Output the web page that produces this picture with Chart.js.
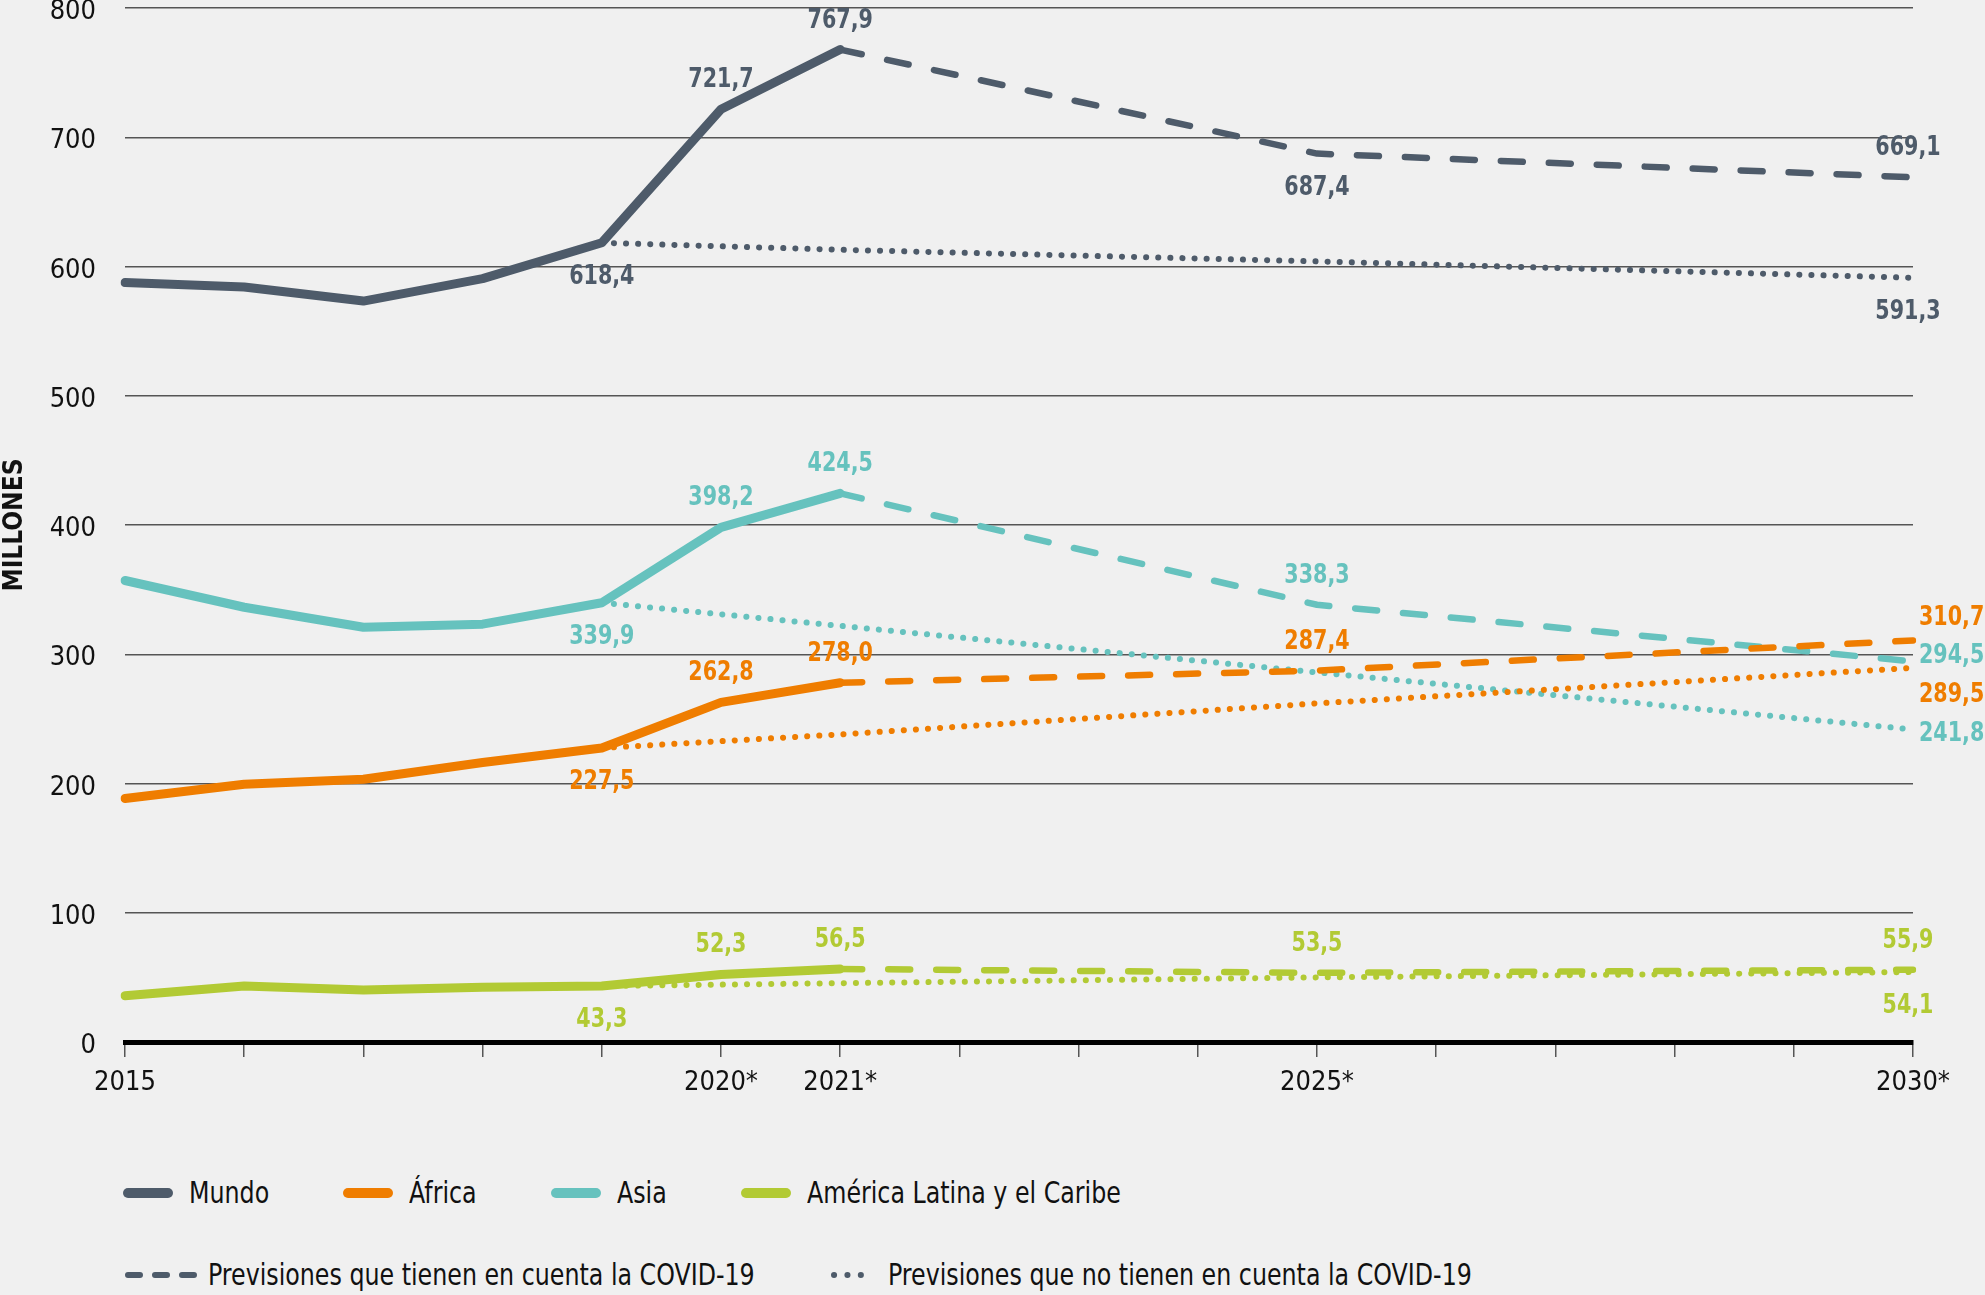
<!DOCTYPE html>
<html>
<head>
<meta charset="utf-8">
<script src="https://cdn.jsdelivr.net/npm/chart.js@4.4.1/dist/chart.umd.min.js"></script>
<style>
  html, body { margin: 0; padding: 0; background: #f0f0f0; }
  body { width: 1985px; height: 1295px; position: relative; overflow: hidden;
         font-family: 'Liberation Sans Narrow', 'DejaVu Sans Condensed', sans-serif; }
  #wrap { position: absolute; left: 0; top: 0; width: 1985px; height: 1110px; }
  .legend-row { position: absolute; left: 122px; display: flex; align-items: center; font-size: 30px; color: #111; }
  .legend-item { display: flex; align-items: center; margin-right: 73px; }
  #legendSeries .legend-item svg { margin-right: 15px; }
  #legendStyles .legend-item svg { margin-right: 8px; }
  .lt { display: inline-block; transform: scaleX(0.88); transform-origin: left center; white-space: nowrap; }
</style>
</head>
<body>
<div id="wrap"><canvas id="chart"></canvas></div>
<div class="legend-row" id="legendSeries" style="top:1175px"></div>
<div class="legend-row" id="legendStyles" style="top:1257px"></div>
<script>
// x axis: every year, only a few get a label
const years = ['2015','2016','2017','2018','2019','2020','2021','2022','2023','2024','2025','2026','2027','2028','2029','2030'];
const yearLabels = ['2015','','','','','2020*','2021*','','','','2025*','','','','','2030*'];

const seriesNames = ['Mundo', 'África', 'Asia', 'América Latina y el Caribe'];
const seriesColors = ['#4e5b6a', '#ef7d00', '#66c2be', '#b2ca34'];

// observed 2015-2021
const histYears = ['2015','2016','2017','2018','2019','2020','2021'];
const mundoHist  = [587.6, 584.2, 573.3, 590.7, 618.4, 721.7, 767.9];
const africaHist = [188.4, 199.5, 203.3, 216.3, 227.5, 262.8, 278.0];
const asiaHist   = [357.1, 336.4, 320.9, 323.3, 339.9, 398.2, 424.5];
const latamHist  = [35.8, 43.4, 40.3, 42.4, 43.3, 52.3, 56.5];

// forecasts taking COVID-19 into account
const covidYears = ['2021','2025','2030'];
const mundoCovid  = [767.9, 687.4, 669.1];
const africaCovid = [278.0, 287.4, 310.7];
const asiaCovid   = [424.5, 338.3, 294.5];
const latamCovid  = [56.5, 53.5, 55.9];

// forecasts without COVID-19
const noCovidYears = ['2019','2021','2025','2030'];
const mundoNoCovid  = [618.4, 613.0, 604.0, 591.3];
const africaNoCovid = [227.5, 238.0, 262.0, 289.5];
const asiaNoCovid   = [339.9, 322.0, 286.0, 241.8];
const latamNoCovid  = [43.3, 45.5, 50.0, 54.1];

const styleNames = ['Previsiones que tienen en cuenta la COVID-19', 'Previsiones que no tienen en cuenta la COVID-19'];

const toPoints = (xs, ys) => ys.map((v, i) => ({ x: xs[i], y: v }));

const hist = [mundoHist, africaHist, asiaHist, latamHist];
const covid = [mundoCovid, africaCovid, asiaCovid, latamCovid];
const noCovid = [mundoNoCovid, africaNoCovid, asiaNoCovid, latamNoCovid];

const datasets = [];
hist.forEach((d, s) => datasets.push({
  data: toPoints(histYears, d), borderColor: seriesColors[s], borderWidth: 9
}));
covid.forEach((d, s) => datasets.push({
  data: toPoints(covidYears, d), borderColor: seriesColors[s], borderWidth: 6.5, borderDash: [22, 26]
}));
noCovid.forEach((d, s) => datasets.push({
  data: toPoints(noCovidYears, d), borderColor: seriesColors[s], borderWidth: 6, borderDash: [0.1, 12]
}));
datasets.forEach(d => {
  d.pointRadius = 0;
  d.borderCapStyle = 'round';
  d.borderJoinStyle = 'round';
  d.fill = false;
  d.tension = 0;
});

// which point gets a value label, and where
// ds: 0-3 observed, 4-7 covid, 8-11 no covid (Mundo, África, Asia, ALC)
const labelSpots = [
  { ds: 0, i: 4, pos: 'below' }, { ds: 0, i: 5, pos: 'above' }, { ds: 0, i: 6, pos: 'above' },
  { ds: 4, i: 1, pos: 'below' }, { ds: 4, i: 2, pos: 'above', dx: -5 }, { ds: 8, i: 3, pos: 'below', dx: -5 },
  { ds: 2, i: 4, pos: 'below' }, { ds: 2, i: 5, pos: 'above' }, { ds: 2, i: 6, pos: 'above' },
  { ds: 6, i: 1, pos: 'above' }, { ds: 6, i: 2, pos: 'right', dy: -5 }, { ds: 10, i: 3, pos: 'right', dy: 4 },
  { ds: 1, i: 4, pos: 'below' }, { ds: 1, i: 5, pos: 'above' }, { ds: 1, i: 6, pos: 'above' },
  { ds: 5, i: 1, pos: 'above' }, { ds: 5, i: 2, pos: 'right', dy: -22 }, { ds: 9, i: 3, pos: 'right', dy: 27 },
  { ds: 3, i: 4, pos: 'below' }, { ds: 3, i: 5, pos: 'above' }, { ds: 3, i: 6, pos: 'above' },
  { ds: 7, i: 1, pos: 'above' }, { ds: 7, i: 2, pos: 'above', dx: -5 }, { ds: 11, i: 3, pos: 'below', dx: -5 }
];

const valueLabels = {
  id: 'valueLabels',
  afterDatasetsDraw(chart) {
    const ctx = chart.ctx;
    labelSpots.forEach(l => {
      const ds = chart.data.datasets[l.ds];
      const pt = chart.getDatasetMeta(l.ds).data[l.i];
      const v = ds.data[l.i].y;
      const txt = v.toFixed(1).replace('.', ',');
      let x = pt.x + (l.dx || 0), y = pt.y + (l.dy || 0);
      ctx.save();
      ctx.font = 'bold 27px "Liberation Sans Narrow", "DejaVu Sans Condensed", sans-serif';
      ctx.textBaseline = 'middle';
      if (l.pos === 'above') { ctx.textAlign = 'center'; y -= 29; }
      else if (l.pos === 'below') { ctx.textAlign = 'center'; y += 34; }
      else { ctx.textAlign = 'left'; x += 6; }
      ctx.fillStyle = ds.borderColor;
      ctx.translate(x, y);
      ctx.scale(0.85, 1);
      ctx.fillText(txt, 0, 0);
      ctx.restore();
    });
  }
};

const fontFamily = "'Liberation Sans Narrow', 'DejaVu Sans Condensed', sans-serif";

new Chart(document.getElementById('chart'), {
  type: 'line',
  data: { labels: years, datasets: datasets },
  options: {
    responsive: true,
    maintainAspectRatio: false,
    animation: false,
    layout: { padding: { top: 8, right: 72, left: 0, bottom: 0 } },
    plugins: { legend: { display: false }, tooltip: { enabled: false } },
    scales: {
      x: {
        offset: false,
        grid: { drawOnChartArea: false, drawTicks: true, tickLength: 15, color: '#555', lineWidth: 1.5 },
        border: { display: true, color: '#000', width: 5 },
        ticks: {
          autoSkip: false, maxRotation: 0, padding: 10, color: '#111',
          font: { family: fontFamily, size: 27 },
          callback: (v, i) => yearLabels[i]
        },
        afterFit: s => { s.height = 68; }
      },
      y: {
        min: 0, max: 800,
        grid: { drawTicks: true, tickLength: 29, tickColor: 'rgba(0,0,0,0)', color: '#555', lineWidth: 1.5 },
        border: { display: false },
        ticks: { stepSize: 100, padding: 0, labelOffset: 4, color: '#111',
                 font: { family: fontFamily, size: 27, lineHeight: 0.6 } },
        title: { display: true, text: 'MILLONES', color: '#111', padding: 0,
                 font: { family: fontFamily, size: 26, weight: 'bold' } },
        afterFit: s => { s.width = 125; }
      }
    }
  },
  plugins: [valueLabels]
});

// legend
const swatch = (color, width, dash, len) => {
  const w = len + 12;
  return `<svg width="${w}" height="14"><line x1="6" y1="7" x2="${w - 6}" y2="7" stroke="${color}" stroke-width="${width}" stroke-linecap="round" ${dash ? `stroke-dasharray="${dash}"` : ''}/></svg>`;
};
document.getElementById('legendSeries').innerHTML = seriesNames.map((n, s) =>
  `<div class="legend-item">${swatch(seriesColors[s], 10, null, 40)}<span class="lt">${n}</span></div>`).join('');
document.getElementById('legendStyles').innerHTML =
  `<div class="legend-item">${swatch(seriesColors[0], 6, '12 15', 66)}<span class="lt">${styleNames[0]}</span></div>` +
  `<div class="legend-item">${swatch(seriesColors[0], 6, '0.1 13.3', 40)}<span class="lt">${styleNames[1]}</span></div>`;
document.querySelectorAll('.lt').forEach(el => {
  el.style.marginRight = (-el.offsetWidth * 0.12) + 'px';
});
</script>
</body>
</html>
